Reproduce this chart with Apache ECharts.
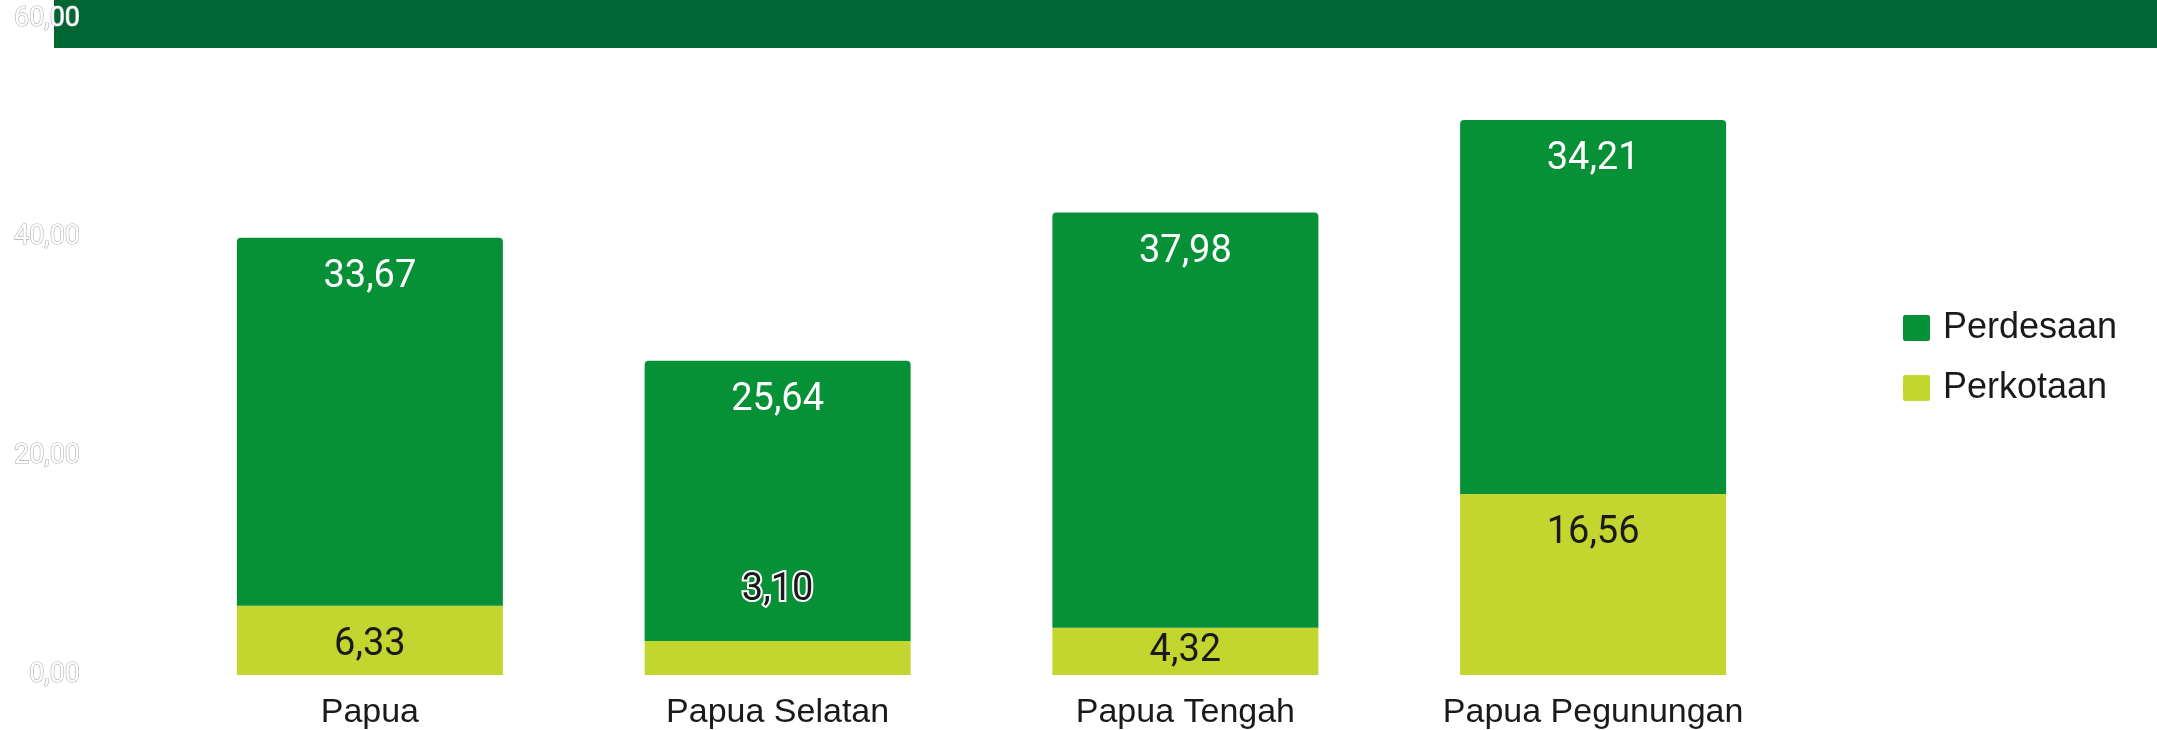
<!DOCTYPE html>
<html>
<head>
<meta charset="utf-8">
<script src="https://cdn.jsdelivr.net/npm/echarts@6/dist/echarts.min.js"></script>
<style>
  html, body { margin: 0; padding: 0; background: #ffffff; }
  #chart { width: 2157px; height: 730px; }
</style>
</head>
<body>
<div id="chart"></div>
<script>
// Provinces on the category axis
const categories = ['Papua', 'Papua Selatan', 'Papua Tengah', 'Papua Pegunungan'];
// Stacked values per province
const perkotaan = [6.33, 3.10, 4.32, 16.56];
const perdesaan = [33.67, 25.64, 37.98, 34.21];
// Value axis ticks
const yTicks = { min: 0, max: 60, interval: 20 };

const COLOR_DESA = '#079137';
const COLOR_KOTA = '#c2d62f';

const fmt = v => v.toFixed(2).replace('.', ',');

const chart = echarts.init(document.getElementById('chart'), null, { renderer: 'canvas' });

// Per-item label tweaks for short urban segments
const kotaData = perkotaan.map((v, i) => {
  if (i === 1) {
    return {
      value: v,
      label: {
        position: 'top',
        distance: 32,
        color: '#1a1a1a',
        textBorderColor: '#ffffff',
        textBorderWidth: 4
      }
    };
  }
  if (i === 2) {
    return { value: v, label: { position: 'inside' } };
  }
  return v;
});

// Small-radius square used as legend marker
const legendIcon = 'path://M2,0 L25,0 Q27,0 27,2 L27,24 Q27,26 25,26 L2,26 Q0,26 0,24 L0,2 Q0,0 2,0 Z';

chart.setOption({
  animation: false,
  backgroundColor: '#ffffff',
  graphic: {
    elements: [{
      type: 'rect',
      z: -1,
      silent: true,
      shape: { x: 54, y: 0, width: 2157 - 54, height: 48 },
      style: { fill: '#006633' }
    }]
  },
  grid: { left: 166, right: 360, top: 19, bottom: 55, containLabel: false },
  legend: {
    orient: 'vertical',
    left: 1898,
    top: 305,
    itemWidth: 27,
    itemHeight: 26,
    itemGap: 24,
    icon: legendIcon,
    data: ['Perdesaan', 'Perkotaan'],
    textStyle: {
      fontFamily: 'Liberation Sans, Arial, sans-serif',
      fontSize: 36,
      lineHeight: 36,
      color: '#1a1a1a',
      padding: [0, 0, 0, 8]
    }
  },
  xAxis: {
    type: 'category',
    data: categories,
    axisLine: { show: false },
    axisTick: { show: false },
    axisLabel: {
      margin: 21,
      fontFamily: 'Liberation Sans, Arial, sans-serif',
      fontSize: 34,
      color: '#1a1a1a'
    }
  },
  yAxis: {
    type: 'value',
    z: 20,
    min: yTicks.min,
    max: yTicks.max,
    interval: yTicks.interval,
    axisLine: { show: false },
    axisTick: { show: false },
    splitLine: { show: false },
    axisLabel: {
      margin: 86,
      align: 'right',
      fontFamily: 'Roboto, sans-serif',
      fontSize: 27,
      color: '#ffffff',
      textBorderColor: '#b0b0b0',
      textBorderWidth: 1.2,
      formatter: v => fmt(v)
    }
  },
  series: [
    {
      name: 'Perkotaan',
      type: 'bar',
      stack: 'total',
      barWidth: 266,
      data: kotaData,
      itemStyle: { color: COLOR_KOTA },
      label: {
        show: true,
        position: 'insideTop',
        distance: 21,
        fontFamily: 'Roboto, sans-serif',
        fontSize: 38,
        color: '#1a1a1a',
        formatter: p => fmt(p.value)
      }
    },
    {
      name: 'Perdesaan',
      type: 'bar',
      stack: 'total',
      barWidth: 266,
      data: perdesaan,
      itemStyle: { color: COLOR_DESA, borderRadius: [4, 4, 0, 0] },
      label: {
        show: true,
        position: 'insideTop',
        distance: 21,
        fontFamily: 'Roboto, sans-serif',
        fontSize: 38,
        color: '#ffffff',
        formatter: p => fmt(p.value)
      }
    }
  ]
});
</script>
</body>
</html>
